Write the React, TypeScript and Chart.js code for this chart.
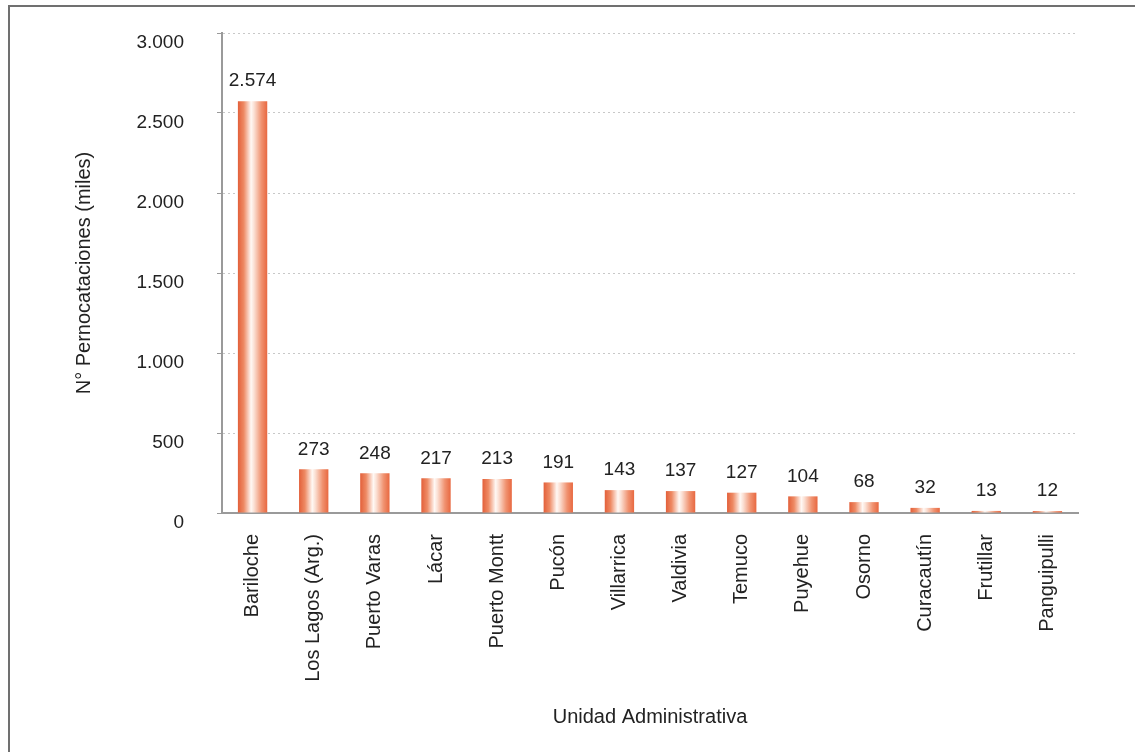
import React, { useEffect, useRef } from "react";
import { Chart, registerables } from "chart.js";

Chart.register(...registerables);

const categories: string[] = [
  "Bariloche",
  "Los Lagos (Arg.)",
  "Puerto Varas",
  "Lácar",
  "Puerto Montt",
  "Pucón",
  "Villarrica",
  "Valdivia",
  "Temuco",
  "Puyehue",
  "Osorno",
  "Curacautín",
  "Frutillar",
  "Panguipulli",
];

const pernoctaciones: number[] = [2574, 273, 248, 217, 213, 191, 143, 137, 127, 104, 68, 32, 13, 12];

const yAxisTitle = "N° Pernocataciones (miles)";
const xAxisTitle = "Unidad Administrativa";

const FONT = "'Liberation Sans', Arial, Helvetica, sans-serif";
const BAR_PCT = 0.48;

function fmt(v: number): string {
  const s = Math.round(v).toString();
  return s.replace(/\B(?=(\d{3})+(?!\d))/g, ".");
}

const valueLabels = {
  id: "valueLabels",
  afterDatasetsDraw(chart: any) {
    const ctx = chart.ctx;
    const meta = chart.getDatasetMeta(0);
    const data = chart.data.datasets[0].data as number[];
    ctx.save();
    ctx.font = `19px ${FONT}`;
    ctx.fillStyle = "#222222";
    ctx.textAlign = "center";
    ctx.textBaseline = "middle";
    meta.data.forEach((el: any, i: number) => {
      ctx.fillText(fmt(data[i]), el.x, el.y - 20);
    });
    ctx.restore();
  },
};

export default function App() {
  const canvasRef = useRef<HTMLCanvasElement | null>(null);

  useEffect(() => {
    if (!canvasRef.current) return;
    const chart = new Chart(canvasRef.current, {
      type: "bar",
      data: {
        labels: categories,
        datasets: [
          {
            data: pernoctaciones,
            barPercentage: BAR_PCT,
            categoryPercentage: 1,
            borderWidth: 0,
            backgroundColor: (c: any) => {
              const ch = c.chart;
              const xs = ch.scales && ch.scales.x;
              if (!xs || !ch.chartArea || c.dataIndex === undefined) return "#EC7550";
              const band = xs.width / categories.length;
              const w = band * BAR_PCT;
              const cx = xs.getPixelForValue(c.dataIndex);
              const g = ch.ctx.createLinearGradient(cx - w / 2, 0, cx + w / 2, 0);
              g.addColorStop(0, "#E3603A");
              g.addColorStop(0.2, "#EE8A64");
              g.addColorStop(0.45, "#FFF8F4");
              g.addColorStop(0.55, "#FBE0D4");
              g.addColorStop(0.8, "#F09270");
              g.addColorStop(1, "#E86840");
              return g;
            },
          },
        ],
      },
      options: {
        responsive: false,
        animation: false,
        maintainAspectRatio: false,
        layout: { padding: { top: 26, right: 57, left: 0, bottom: 0 } },
        plugins: {
          legend: { display: false },
          tooltip: { enabled: false },
        },
        scales: {
          x: {
            grid: { display: false },
            border: { display: true, color: "#9a9a9a", width: 2 },
            ticks: {
              maxRotation: 90,
              minRotation: 90,
              autoSkip: false,
              padding: 13,
              color: "#222222",
              font: { family: FONT, size: 20 },
            },
            title: {
              display: true,
              text: xAxisTitle,
              color: "#222222",
              font: { family: FONT, size: 20 },
              padding: { top: 0, bottom: 23 },
            },
            afterFit: (s: any) => {
              s.height = 239;
              s.paddingLeft = 0;
              s.paddingRight = 0;
              s.paddingTop = 0;
              s.paddingBottom = 0;
            },
          },
          y: {
            min: 0,
            max: 3000,
            grid: {
              color: "#c8c8c8",
              lineWidth: 1,
              drawTicks: true,
              tickLength: 5,
              tickColor: "#9a9a9a",
              tickWidth: 1,
            },
            border: { display: true, color: "#9a9a9a", width: 2, dash: [2, 3] },
            ticks: {
              stepSize: 500,
              padding: 33,
              labelOffset: 10,
              color: "#222222",
              font: { family: FONT, size: 19 },
              callback: (v: any) => fmt(Number(v)),
            },
            title: {
              display: true,
              text: yAxisTitle,
              color: "#222222",
              font: { family: FONT, size: 20 },
              padding: { top: 62, bottom: 0 },
            },
            afterFit: (s: any) => {
              s.width = 212;
              s.paddingTop = 0;
              s.paddingBottom = 0;
              s.paddingLeft = 0;
              s.paddingRight = 0;
            },
          },
        },
      },
      plugins: [valueLabels],
    } as any);
    return () => chart.destroy();
  }, []);

  return (
    <div
      style={{
        position: "absolute",
        left: 8,
        top: 5,
        width: 1127,
        height: 747,
        borderTop: "2px solid #707070",
        borderLeft: "2px solid #707070",
        background: "#ffffff",
        overflow: "hidden",
      }}
    >
      <canvas ref={canvasRef} width={1125} height={745} style={{ display: "block" }} />
    </div>
  );
}
